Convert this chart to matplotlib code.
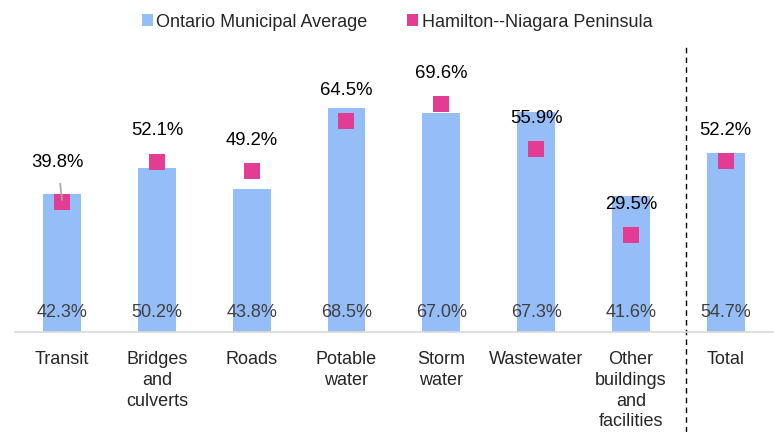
import matplotlib
matplotlib.use("Agg")
import matplotlib.pyplot as plt
from matplotlib.patches import Patch
from matplotlib.lines import Line2D

plt.rcParams['font.family'] = ['Liberation Sans', 'DejaVu Sans']

categories = ["Transit", "Bridges\nand\nculverts", "Roads", "Potable\nwater",
              "Storm\nwater", "Wastewater", "Other\nbuildings\nand\nfacilities", "Total"]
ontario_avg = [42.3, 50.2, 43.8, 68.5, 67.0, 67.3, 41.6, 54.7]
hamilton = [39.8, 52.1, 49.2, 64.5, 69.6, 55.9, 29.5, 52.2]

bar_color = '#95BDF7'
pink = '#E23C93'

fig = plt.figure(figsize=(7.74, 4.32), dpi=100)
ax = fig.add_axes([0.0189, 0.2315, 0.98, 0.662])

x = list(range(len(categories)))
ax.bar(x, ontario_avg, width=0.4, color=bar_color, zorder=2)
ax.plot(x, hamilton, linestyle='none', marker='s', markersize=11.5,
        color=pink, markeredgewidth=0, zorder=3)

# bar values near the bottom of each bar
for xi, v in zip(x, ontario_avg):
    ax.text(xi, 6.0, f"{v:.1f}%", ha='center', va='center', fontsize=13,
            color='#404040', zorder=4)

# Hamilton values above the squares
for xi, v in zip(x, hamilton):
    if xi == 0:
        ax.annotate(f"{v:.1f}%", xy=(xi, v + 0.5), xytext=(-3, 27),
                    textcoords='offset points', ha='center', va='center',
                    fontsize=13.3, color='black', zorder=5,
                    arrowprops=dict(arrowstyle='-', color='#A6A6A6', lw=1.2,
                                    shrinkA=7, shrinkB=0))
    else:
        ax.annotate(f"{v:.1f}%", xy=(xi, v), xytext=(0, 22),
                    textcoords='offset points', ha='center', va='center',
                    fontsize=13.3, color='black', zorder=5)

ax.set_xlim(-0.5, 7.5)
ax.set_ylim(0, 87.4)
ax.set_xticks(x)
ax.set_xticklabels(categories, fontsize=13, color='#262626', linespacing=1.3)
ax.tick_params(axis='x', length=0, pad=13.5)
ax.set_yticks([])
for s in ['top', 'left', 'right']:
    ax.spines[s].set_visible(False)
ax.spines['bottom'].set_color('#D9D9D9')
ax.spines['bottom'].set_linewidth(1.2)

# dashed separator before Total
ax.add_line(Line2D([6.58, 6.58], [-0.35, 1.0], transform=ax.get_xaxis_transform(),
                   color='black', linestyle=(0, (4, 3)), lw=1.0, clip_on=False))

handles = [Patch(facecolor=bar_color, edgecolor='none'),
           Patch(facecolor=pink, edgecolor='none')]
fig.legend(handles, ["Ontario Municipal Average", "Hamilton--Niagara Peninsula"],
           loc='center', bbox_to_anchor=(0.513, 0.949), ncol=2, frameon=False,
           fontsize=13, handlelength=0.6, handleheight=0.6, handletextpad=0.2,
           columnspacing=2.2, labelcolor='#262626')

fig.savefig("out.png", dpi=100)
